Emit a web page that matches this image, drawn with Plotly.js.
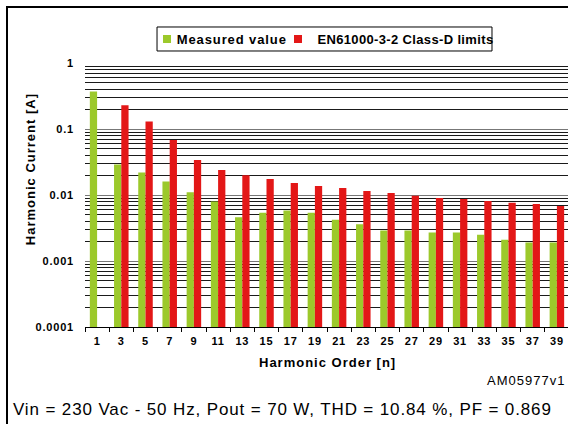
<!DOCTYPE html>
<html><head><meta charset="utf-8">
<script src="https://cdn.plot.ly/plotly-3.0.1.min.js"></script>
<style>
html,body{margin:0;padding:0;background:#fff;overflow:hidden;}
#wrap{position:relative;width:568px;height:424px;overflow:hidden;}
#chart{position:absolute;left:0;top:0;width:570px;height:424px;}
#frame{position:absolute;left:6px;top:6px;width:600px;height:440px;border-left:2px solid #000;border-top:2px solid #000;pointer-events:none;}
.xtick text,.ytick text{letter-spacing:0.8px;}
.annotation-text{letter-spacing:1px;}
.annotation[data-index="3"] .annotation-text{letter-spacing:0.87px;}
.annotation[data-index="4"] .annotation-text{letter-spacing:0.9px;}
.annotation[data-index="5"] .annotation-text{letter-spacing:0.35px;}
</style></head><body>
<div id="wrap"><div id="chart"></div><div id="frame"></div></div>
<script>
// Harmonic orders (categories)
const harmonicOrders = ['1','3','5','7','9','11','13','15','17','19','21','23','25','27','29','31','33','35','37','39'];
// Measured harmonic current [A]
const measuredValue = [0.37, 0.029, 0.022, 0.016, 0.011, 0.008, 0.0046, 0.0054, 0.0058, 0.0054, 0.0042, 0.0036, 0.0029, 0.0029, 0.0027, 0.0027, 0.0025, 0.0021, 0.0019, 0.0019];
// EN61000-3-2 Class-D limits [A]
const classDLimits = [null, 0.23, 0.13, 0.068, 0.034, 0.024, 0.020, 0.0175, 0.0152, 0.0137, 0.0128, 0.0115, 0.0107, 0.0097, 0.0090, 0.0087, 0.0081, 0.0076, 0.0073, 0.0068];
// Y tick labels
const yTickVals = [0.0001, 0.001, 0.01, 0.1, 1];
const yTickText = ['0.0001', '0.001', '0.01', '0.1', '1'];
const seriesNames = ['Measured value', 'EN61000-3-2 Class-D limits'];
const seriesColors = ['#9CC92B', '#E31717'];

// minor gridline positions (2..9 within each decade)
const minorVals = [];
for (let e = -4; e < 0; e++) {
  for (let d = 2; d <= 9; d++) minorVals.push(d * Math.pow(10, e));
}

const FONT = '"Liberation Sans", Arial, Helvetica, sans-serif';

const traces = [
  {type:'bar', name:seriesNames[0], x:harmonicOrders, y:measuredValue, marker:{color:seriesColors[0]}},
  {type:'bar', name:seriesNames[1], x:harmonicOrders, y:classDLimits, marker:{color:seriesColors[1]}}
];

// legend drawn as a framed box (paper coordinates)
const legendShapes = [
  {type:'rect', xref:'paper', yref:'paper', x0:0.1488, x1:0.8409, y0:1.0455, y1:1.1364, line:{color:'#000', width:1}, fillcolor:'#fff'},
  {type:'rect', xref:'paper', yref:'paper', x0:0.1612, x1:0.1777, y0:1.0758, y1:1.1061, line:{width:0}, fillcolor:seriesColors[0]},
  {type:'rect', xref:'paper', yref:'paper', x0:0.4318, x1:0.4483, y0:1.0758, y1:1.1061, line:{width:0}, fillcolor:seriesColors[1]}
];

const layout = {
  width:570, height:424,
  margin:{l:85, r:1, t:63, b:97},
  paper_bgcolor:'#ffffff', plot_bgcolor:'#ffffff',
  barmode:'group', bargap:0.4, bargroupgap:0,
  font:{family:FONT, color:'#000'},
  showlegend:false,
  shapes:legendShapes,
  xaxis:{type:'category', showgrid:false, showline:true, linecolor:'#000', linewidth:1,
         ticks:'outside', tickson:'boundaries', ticklen:4, tickcolor:'#000', tickwidth:1, ticklabelstandoff:4,
         tickfont:{family:FONT, size:11, weight:'bold', color:'#000'}, zeroline:false, fixedrange:true},
  yaxis:{type:'log', range:[-4, 0], tickmode:'array', tickvals:yTickVals, ticktext:yTickText,
         showgrid:true, gridcolor:'#777', gridwidth:1, showline:false, ticks:'', zeroline:false,
         tickfont:{family:FONT, size:11, weight:'bold', color:'#000'}, ticklabelstandoff:10, fixedrange:true,
         minor:{tickmode:'array', tickvals:minorVals, showgrid:true, gridcolor:'#1a1a1a', gridwidth:1, ticks:''}},
  annotations:[
    {text:'Harmonic Current [A]', xref:'paper', yref:'paper', x:-0.1136, y:0.598, textangle:-90,
     showarrow:false, xanchor:'center', yanchor:'middle', font:{family:FONT, size:13, weight:'bold', color:'#000'}},
    {text:'Harmonic Order [n]', xref:'paper', yref:'paper', x:0.5, y:-0.135,
     showarrow:false, xanchor:'center', yanchor:'middle', font:{family:FONT, size:13, weight:'bold', color:'#000'}},
    {text:'AM05977v1', xref:'paper', yref:'paper', x:0.9959, y:-0.2008,
     showarrow:false, xanchor:'right', yanchor:'middle', font:{family:FONT, size:13, color:'#000'}},
    {text:'Vin = 230 Vac - 50 Hz, Pout = 70 W, THD = 10.84 %, PF = 0.869', xref:'paper', yref:'paper', x:-0.1612, y:-0.314,
     showarrow:false, xanchor:'left', yanchor:'middle', font:{family:FONT, size:17, color:'#000'}},
    {text:seriesNames[0], xref:'paper', yref:'paper', x:0.1839, y:1.0909,
     showarrow:false, xanchor:'left', yanchor:'middle', font:{family:FONT, size:13, weight:'bold', color:'#000'}},
    {text:seriesNames[1], xref:'paper', yref:'paper', x:0.4596, y:1.0909,
     showarrow:false, xanchor:'left', yanchor:'middle', font:{family:FONT, size:13, weight:'bold', color:'#000'}}
  ]
};

Plotly.newPlot('chart', traces, layout, {displayModeBar:false, staticPlot:true});
</script>
</body></html>
